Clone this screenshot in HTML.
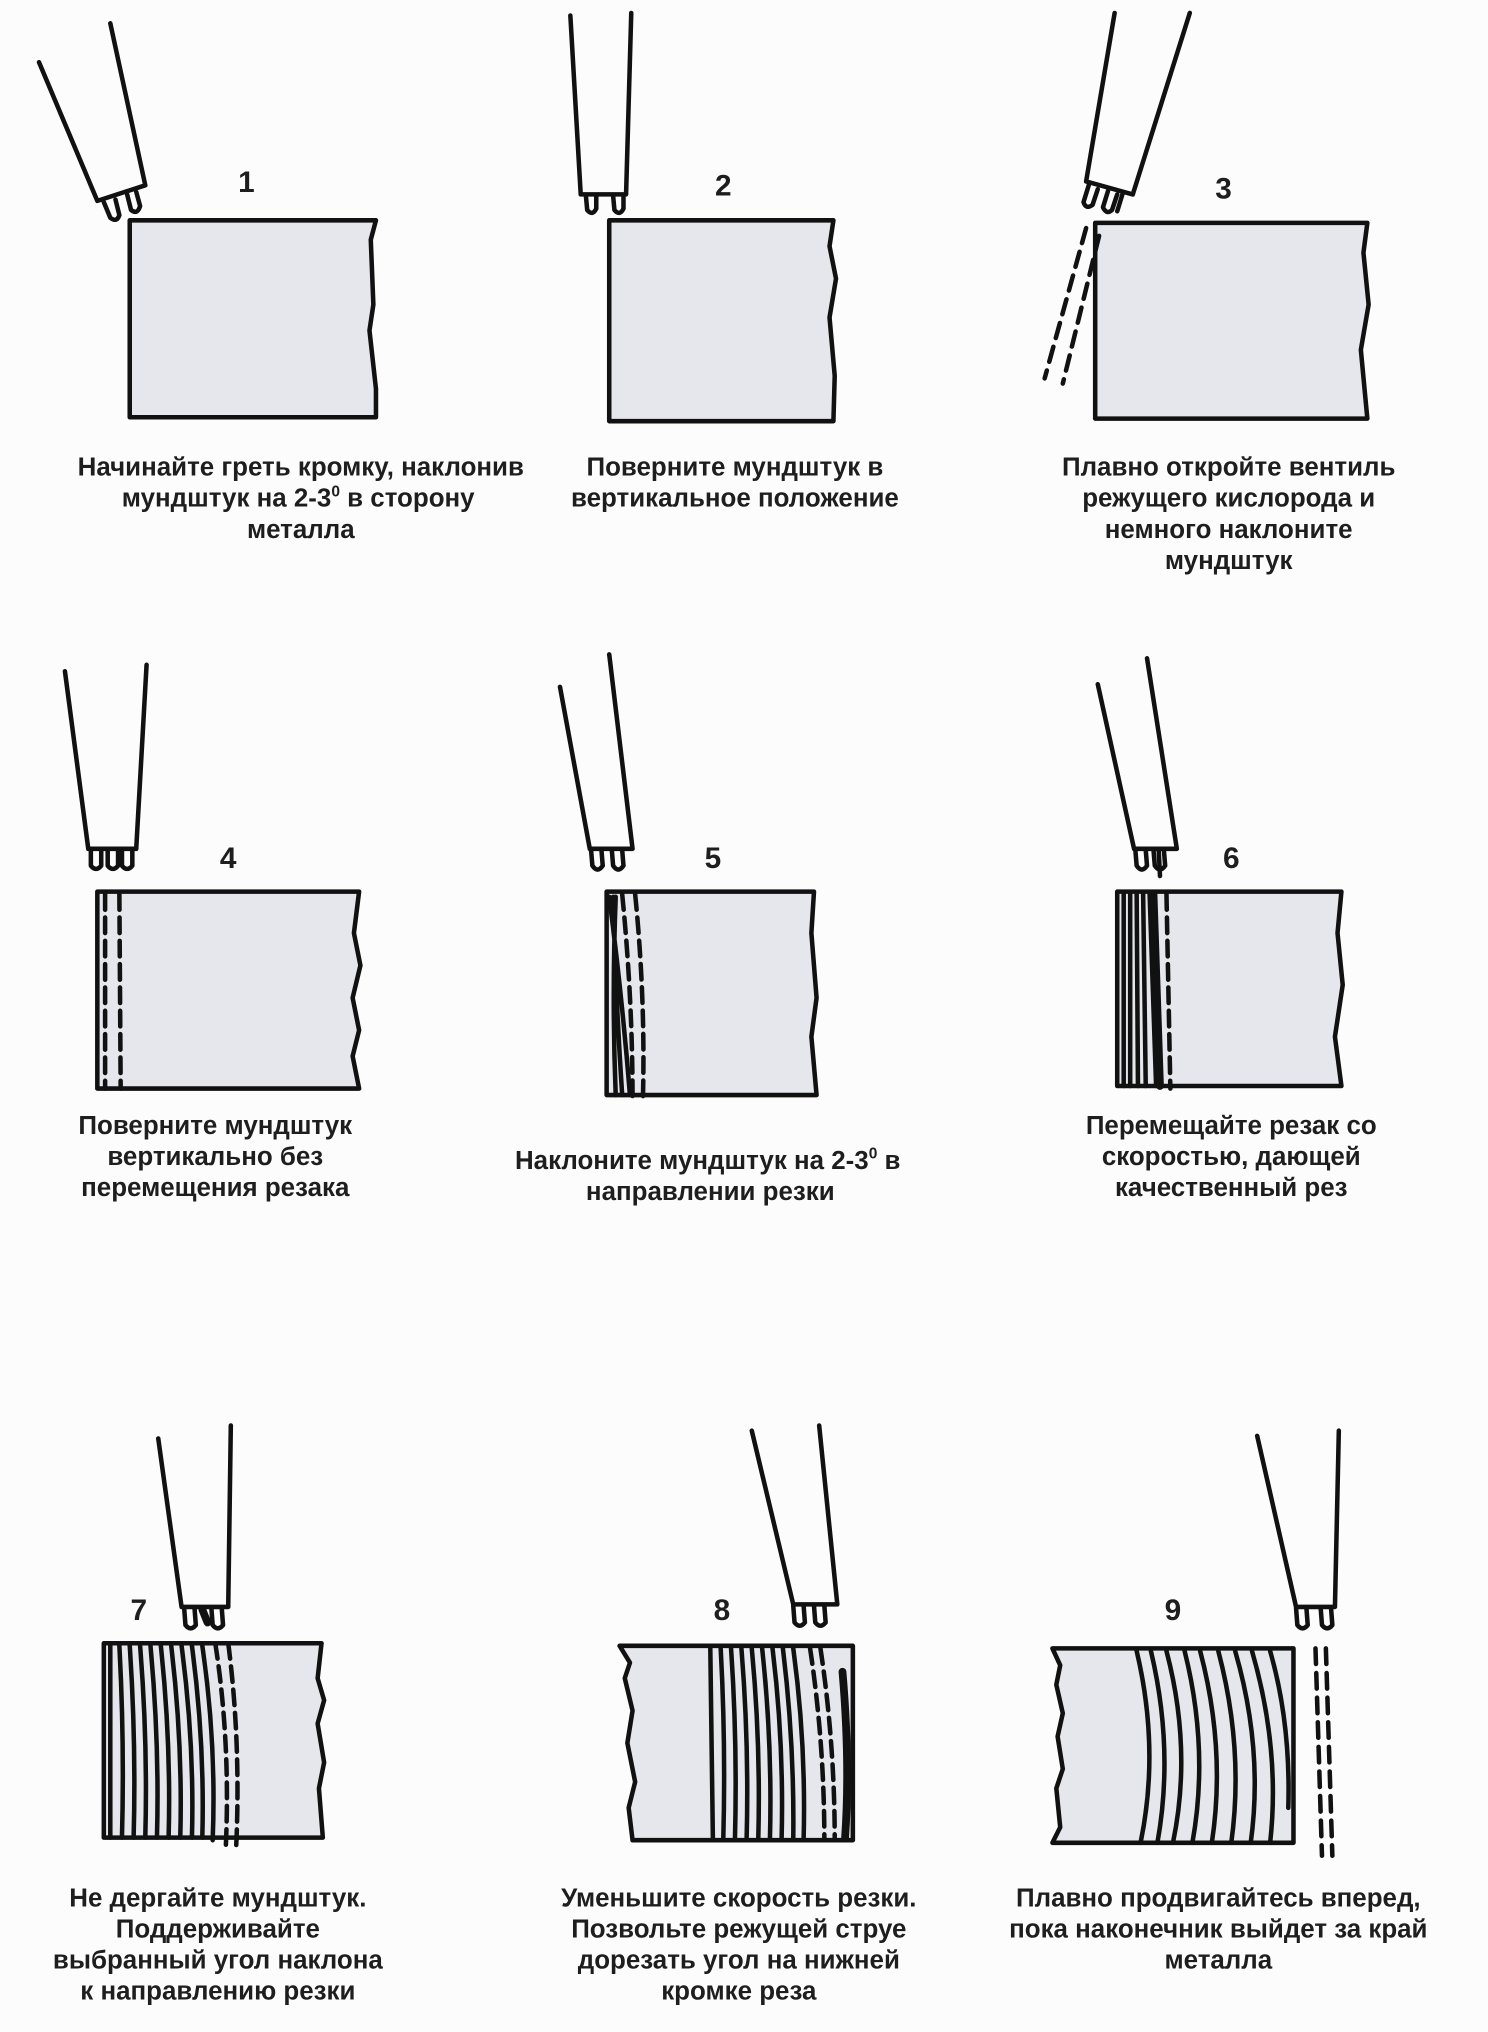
<!DOCTYPE html>
<html><head><meta charset="utf-8"><style>
html,body{margin:0;padding:0;background:#fcfcfc;}
svg{display:block;}
text{font-family:"Liberation Sans",sans-serif;font-weight:bold;fill:#1e1e1e;}
.t{font-size:20px;text-anchor:middle;}
.n{font-size:23px;text-anchor:middle;}
</style></head><body>
<svg width="1488" height="2032" viewBox="0 0 1148 1568" xmlns="http://www.w3.org/2000/svg">
<rect width="1148" height="1568" fill="#fcfcfc"/>
<g stroke="#111" stroke-width="3.5" fill="none" stroke-linecap="round" stroke-linejoin="round">
<!-- Panel 1 -->
<path d="M30,48 L75,155 L112,143 L85,18"/>
<path d="M80,156 L85,168 Q90,172 92,166 L89,154 M98,150 L101,162 Q106,166 108,159 L105,148"/>
<path d="M100,170 L290,170 L286,185 L288,235 L285,255 L290,300 L290,322 L100,322 Z" fill="#e6e7ec"/>
<!-- Panel 2 -->
<path d="M440,12 L448,150 L483,150 L487,10"/>
<path d="M452,151 L453,162 Q457,167 460,161 L460,151 M473,151 L474,162 Q478,167 481,161 L481,151"/>
<path d="M470,170 L643,170 L640,190 L645,215 L640,245 L644,290 L643,325 L470,325 Z" fill="#e6e7ec"/>
<!-- Panel 3 -->
<path d="M860,10 L838,140 L874,150 L918,10"/>
<path d="M840,143 L836,156 Q838,162 843,158 L847,146 M855,147 L851,160 Q854,166 858,162 L862,150 M866,150 L862,163"/>
<path d="M845,172 L1055,172 L1052,195 L1056,235 L1050,270 L1055,323 L845,323 Z" fill="#e6e7ec"/>
<path d="M838,176 L806,292 M848,182 L820,296" stroke-dasharray="12,7"/>
<!-- Panel 4 -->
<path d="M50,518 L68,655 L105,655 L113,513"/>
<path d="M70,656 L70,668 Q74,673 78,668 L78,656 M83,656 L83,668 Q87,673 91,668 L91,656 M94,656 L94,668 Q98,673 102,668 L102,656"/>
<path d="M75,688 L277,688 L273,720 L278,745 L272,770 L277,795 L272,815 L277,840 L75,840 Z" fill="#e6e7ec"/>
<path d="M81,690 L81,840 M92,690 L93,840" stroke-dasharray="12,6"/>
<!-- Panel 5 -->
<path d="M432,530 L455,655 L488,655 L470,505"/>
<path d="M456,656 L457,668 Q461,674 465,668 L464,656 M472,656 L473,668 Q477,674 481,668 L480,656"/>
<path d="M468,688 L628,688 L626,720 L630,770 L626,800 L630,845 L468,845 Z" fill="#e6e7ec"/>
<path d="M470,692 Q480,770 486,845 M473,692 Q475,770 480,845 M475,692 Q472,770 475,845"/>
<path d="M480,690 Q488,770 488,848 M490,690 Q498,770 496,848" stroke-dasharray="12,6"/>
<!-- Panel 6 -->
<path d="M847,528 L875,655 L908,655 L885,508"/>
<path d="M876,656 L877,668 Q881,674 885,668 L884,656 M890,656 L891,668 Q895,674 899,668 L898,656 M894,656 L895,676"/>
<path d="M862,688 L1035,688 L1032,720 L1036,760 L1030,800 L1035,838 L862,838 Z" fill="#e6e7ec"/>
<path d="M867,690 L867,838 M872,690 L872,838 M877,690 L878,838 M882,690 L884,838 M887,690 L892,838"/>
<path d="M890,690 L895,838" stroke-width="6"/>
<path d="M900,690 L903,840" stroke-dasharray="12,6"/>
<!-- Panel 7 -->
<path d="M122,1110 L140,1240 L176,1240 L178,1100"/>
<path d="M142,1241 L143,1254 Q147,1259 151,1254 L150,1241 M163,1241 L164,1254 Q168,1259 172,1254 L171,1241"/>
<path d="M156,1242 L160,1252" stroke-width="6"/>
<path d="M80,1268 L248,1268 L245,1295 L250,1312 L245,1330 L250,1360 L246,1380 L249,1418 L80,1418 Z" fill="#e6e7ec"/>
<path d="M85,1270 L85,1418 M92,1270 Q96,1345 94,1418 M100,1270 Q105,1345 103,1418 M108,1270 Q114,1345 112,1418 M116,1270 Q123,1345 121,1418 M124,1270 Q132,1345 130,1418 M132,1270 Q141,1345 139,1418 M140,1270 Q150,1345 148,1418 M148,1270 Q158,1345 156,1418 M156,1270 Q167,1345 164,1420"/>
<path d="M166,1268 Q178,1345 174,1428 M176,1268 Q186,1345 182,1428" stroke-dasharray="12,6"/>
<!-- Panel 8 -->
<path d="M580,1104 L612,1238 L646,1238 L632,1100"/>
<path d="M612,1239 L613,1252 Q617,1257 621,1252 L620,1239 M628,1239 L629,1252 Q633,1257 637,1252 L636,1239"/>
<path d="M478,1270 L658,1270 L658,1420 L488,1420 L485,1395 L490,1375 L484,1345 L488,1320 L482,1295 L486,1283 Z" fill="#e6e7ec"/>
<path d="M548,1272 L550,1420 M556,1272 Q560,1345 558,1420 M564,1272 Q569,1345 567,1420 M572,1272 Q578,1345 576,1420 M580,1272 Q587,1345 585,1420 M588,1272 Q596,1345 594,1420 M596,1272 Q605,1345 603,1420 M604,1272 Q613,1345 612,1420 M612,1272 Q622,1345 620,1420"/>
<path d="M625,1272 Q636,1345 636,1420 M633,1272 Q644,1345 644,1420" stroke-dasharray="12,6"/>
<path d="M650,1290 Q656,1360 652,1418" stroke-width="6"/>
<!-- Panel 9 -->
<path d="M970,1108 L1000,1240 L1030,1240 L1033,1104"/>
<path d="M1000,1241 L1001,1254 Q1005,1259 1009,1254 L1008,1241 M1019,1241 L1020,1254 Q1024,1259 1028,1254 L1027,1241"/>
<path d="M812,1272 L998,1272 L998,1422 L812,1422 L818,1410 L815,1380 L820,1365 L816,1340 L820,1322 L815,1300 L818,1285 Z" fill="#e6e7ec"/>
<path d="M877,1274 Q895,1350 880,1422 M888,1274 Q906,1350 893,1422 M900,1274 Q920,1350 905,1422 M914,1274 Q933,1350 920,1422 M926,1274 Q946,1350 935,1422 M940,1274 Q960,1350 950,1422 M953,1274 Q975,1350 965,1422 M966,1274 Q988,1350 980,1422 M980,1274 Q996,1330 994,1395"/>
<path d="M1015,1272 L1020,1432 M1023,1272 L1028,1432" stroke-dasharray="12,7"/>
</g>
<!-- Numbers -->
<text class="n" x="190" y="148">1</text>
<text class="n" x="558" y="151">2</text>
<text class="n" x="944" y="153">3</text>
<text class="n" x="176" y="670">4</text>
<text class="n" x="550" y="670">5</text>
<text class="n" x="950" y="670">6</text>
<text class="n" x="107" y="1250">7</text>
<text class="n" x="557" y="1250">8</text>
<text class="n" x="905" y="1250">9</text>
<!-- Captions -->
<text class="t" x="232" y="367">Начинайте греть кромку, наклонив</text>
<text class="t" x="230" y="391">мундштук на 2-3<tspan font-size="12" dy="-8">0</tspan><tspan dy="8"> в сторону</tspan></text>
<text class="t" x="232" y="415">металла</text>
<text class="t" x="567" y="367">Поверните мундштук в</text>
<text class="t" x="567" y="391">вертикальное положение</text>
<text class="t" x="948" y="367">Плавно откройте вентиль</text>
<text class="t" x="948" y="391">режущего кислорода и</text>
<text class="t" x="948" y="415">немного наклоните</text>
<text class="t" x="948" y="439">мундштук</text>
<text class="t" x="166" y="875">Поверните мундштук</text>
<text class="t" x="166" y="899">вертикально без</text>
<text class="t" x="166" y="923">перемещения резака</text>
<text class="t" x="546" y="902">Наклоните мундштук на 2-3<tspan font-size="12" dy="-8">0</tspan><tspan dy="8"> в</tspan></text>
<text class="t" x="548" y="926">направлении резки</text>
<text class="t" x="950" y="875">Перемещайте резак со</text>
<text class="t" x="950" y="899">скоростью, дающей</text>
<text class="t" x="950" y="923">качественный рез</text>
<text class="t" x="168" y="1471">Не дергайте мундштук.</text>
<text class="t" x="168" y="1495">Поддерживайте</text>
<text class="t" x="168" y="1519">выбранный угол наклона</text>
<text class="t" x="168" y="1543">к направлению резки</text>
<text class="t" x="570" y="1471">Уменьшите скорость резки.</text>
<text class="t" x="570" y="1495">Позвольте режущей струе</text>
<text class="t" x="570" y="1519">дорезать угол на нижней</text>
<text class="t" x="570" y="1543">кромке реза</text>
<text class="t" x="940" y="1471">Плавно продвигайтесь вперед,</text>
<text class="t" x="940" y="1495">пока наконечник выйдет за край</text>
<text class="t" x="940" y="1519">металла</text>
</svg>
</body></html>
